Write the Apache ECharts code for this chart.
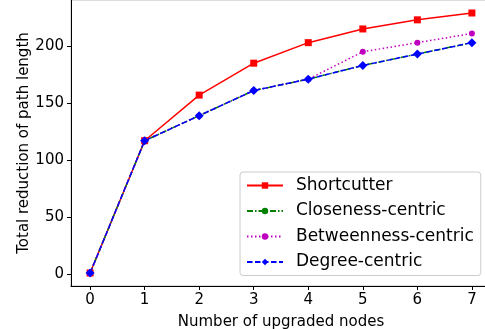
<!DOCTYPE html>
<html><head><meta charset="utf-8">
<script src="https://cdn.jsdelivr.net/npm/echarts@6/dist/echarts.min.js"></script>
<style>html,body{margin:0;padding:0;background:#fff}#c{width:485px;height:329px}</style>
</head><body><div id="c"></div>
<script>
const xValues = [0, 1, 2, 3, 4, 5, 6, 7];
const shortcutter = [1, 117, 157, 185, 203, 215, 223, 229];
const closeness = [1, 117, 139, 161, 171, 183, 193, 203];
const betweenness = [1, 117, 139, 161, 171, 195, 203, 211];
const degree = [1, 117, 139, 161, 171, 183, 193, 203];
const yTicks = [0, 50, 100, 150, 200];
const xTicks = [0, 1, 2, 3, 4, 5, 6, 7];

const pairs = arr => xValues.map((x, i) => [x, arr[i]]);
const font = 'DejaVu Sans';
const chart = echarts.init(document.getElementById('c'), null, {renderer: 'canvas'});
chart.setOption({
  animation: false,
  backgroundColor: '#fff',
  grid: {left: 71, right: -6, top: 0, bottom: 43, show: true, borderColor: '#bbb', borderWidth: 1,
         containLabel: false, outerBoundsMode: 'none'},
  xAxis: {
    type: 'value', min: -0.35, max: 7.35,
    name: 'Number of upgraded nodes', nameLocation: 'middle', nameGap: 29, nameMoveOverlap: false,
    nameTextStyle: {fontFamily: font, fontSize: 15, color: '#000'},
    axisLine: {show: true, onZero: false, lineStyle: {color: '#000', width: 1}},
    axisTick: {show: true, customValues: xTicks, length: 4, lineStyle: {color: '#000'}},
    axisLabel: {customValues: xTicks, fontFamily: font, fontSize: 15, color: '#000', margin: 7},
    splitLine: {show: false}
  },
  yAxis: {
    type: 'value', min: -10.4, max: 240.4,
    name: 'Total reduction of path length', nameLocation: 'middle', nameGap: 39, nameRotate: 90,
    nameMoveOverlap: false,
    nameTextStyle: {fontFamily: font, fontSize: 15, color: '#000'},
    axisLine: {show: true, onZero: false, lineStyle: {color: '#000', width: 1}},
    axisTick: {show: true, customValues: yTicks, length: 4, lineStyle: {color: '#000'}},
    axisLabel: {customValues: yTicks, fontFamily: font, fontSize: 15, color: '#000', margin: 7},
    splitLine: {show: false}
  },
  legend: {
    orient: 'vertical', left: 240, top: 172,
    padding: [5, 7, 5, 6], itemGap: 8.5, itemWidth: 36, itemHeight: 8,
    backgroundColor: '#fff', borderColor: '#ccc', borderWidth: 1, borderRadius: 3,
    textStyle: {fontFamily: font, fontSize: 17, color: '#000', padding: [0, 0, 0, 8]},
    data: ['Shortcutter', 'Closeness-centric', 'Betweenness-centric', 'Degree-centric']
  },
  series: [
    {name: 'Shortcutter', type: 'line', data: pairs(shortcutter), color: '#ff0000',
     lineStyle: {width: 1.5, type: 'solid'}, symbol: 'rect', symbolSize: 7, itemStyle: {color: '#ff0000'}},
    {name: 'Closeness-centric', type: 'line', data: pairs(closeness), color: '#008000',
     lineStyle: {width: 1.5, type: [6, 2, 1.5, 2]}, symbol: 'circle', symbolSize: 5, itemStyle: {color: '#008000'}},
    {name: 'Betweenness-centric', type: 'line', data: pairs(betweenness), color: '#bf00bf',
     lineStyle: {width: 1.5, type: [1.5, 2.5]}, symbol: 'circle', symbolSize: 6, itemStyle: {color: '#bf00bf'}},
    {name: 'Degree-centric', type: 'line', data: pairs(degree), color: '#0000ff',
     lineStyle: {width: 1.5, type: [5.5, 2.5]}, symbol: 'diamond', symbolSize: 9, itemStyle: {color: '#0000ff'}}
  ]
});
</script></body></html>
